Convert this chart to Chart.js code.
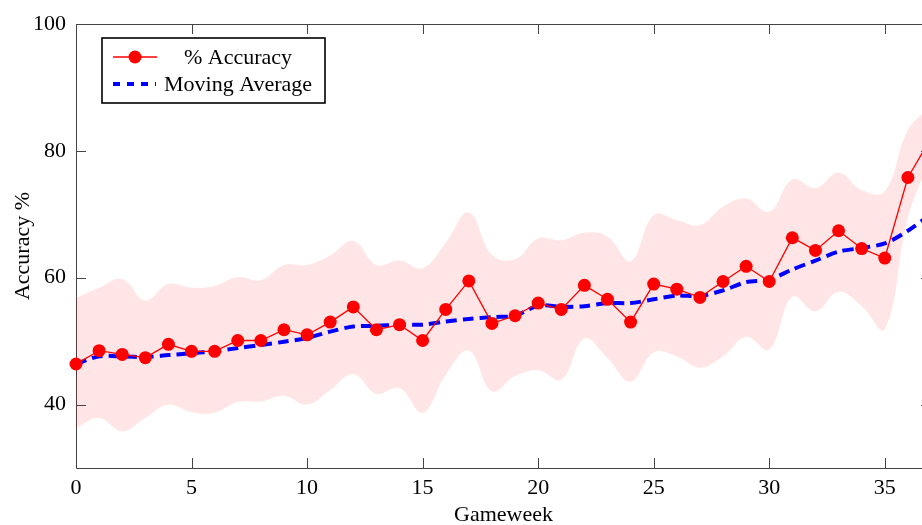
<!DOCTYPE html>
<html>
<head>
<meta charset="utf-8">
<script src="https://cdn.jsdelivr.net/npm/chart.js@4.4.0/dist/chart.umd.min.js"></script>
<style>
  html, body { margin: 0; padding: 0; background: #fff; overflow: hidden; }
  canvas { display: block; }
</style>
</head>
<body>
<canvas id="accuracyChart" width="940" height="530"></canvas>
<script>
// values
const gameweeks = [0, 1, 2, 3, 4, 5, 6, 7, 8, 9, 10, 11, 12, 13, 14, 15, 16, 17, 18,
  19, 20, 21, 22, 23, 24, 25, 26, 27, 28, 29, 30, 31, 32, 33, 34, 35, 36, 37];
const accuracy = [46.4, 48.5, 47.9, 47.4, 49.5, 48.4, 48.4, 50.1, 50.1, 51.8, 51.0, 53.0, 55.4,
  51.8, 52.6, 50.1, 55.0, 59.5, 52.8, 54.0, 56.0, 55.0, 58.8, 56.6, 53.0, 59.0, 58.2, 56.9,
  59.4, 61.8, 59.4, 66.3, 64.3, 67.4, 64.6, 63.1, 75.8, 82.0];
const movingAvg = [46.4, 47.6, 47.6, 47.5, 47.8, 48.1, 48.4, 48.9, 49.4, 49.9, 50.5, 51.5, 52.3,
  52.4, 52.6, 52.6, 53.1, 53.5, 53.8, 54.0, 55.6, 55.4, 55.5, 56.0, 56.0, 56.6, 57.2, 57.1,
  58.0, 59.3, 59.7, 61.3, 62.7, 64.1, 64.7, 65.4, 67.4, 70.0];
const bandUpper = [56.8, 58.4, 59.8, 56.4, 59.0, 58.4, 58.7, 60.1, 59.6, 62.0, 62.0, 63.5, 65.8,
  62.0, 62.7, 61.5, 65.5, 70.3, 63.6, 62.9, 66.2, 65.9, 67.1, 66.5, 62.6, 69.9, 69.1, 68.3,
  71.2, 72.5, 70.4, 75.5, 74.1, 76.6, 73.8, 73.6, 83.3, 87.0];
const bandLower = [36.3, 37.9, 35.8, 37.9, 40.0, 38.8, 38.7, 40.4, 40.5, 41.4, 40.0, 42.3, 44.8,
  41.7, 42.6, 38.7, 44.7, 48.5, 42.1, 44.5, 45.4, 43.9, 50.4, 47.3, 43.6, 48.2, 47.6, 45.8,
  47.6, 50.7, 48.7, 57.0, 54.7, 57.8, 55.5, 51.9, 69.5, 79.0];
const xTicks = [0, 5, 10, 15, 20, 25, 30, 35];
const yTicks = [40, 60, 80, 100];

const serif = "'Liberation Serif', 'Times New Roman', serif";
const fontSize = 22;
const axisColor = '#444';

const toPoints = ys => gameweeks.map((x, i) => ({ x, y: ys[i] }));

// box frame with inward ticks on all four sides
const framePlugin = {
  id: 'frame',
  beforeDatasetsDraw(chart) {
    const { ctx, chartArea: a, scales: { x, y } } = chart;
    const len = 10;
    ctx.save();
    ctx.strokeStyle = axisColor;
    ctx.lineWidth = 1;
    ctx.beginPath();
    ctx.rect(a.left + 0.5, a.top + 0.5, a.right - a.left, a.bottom - a.top);
    xTicks.forEach(v => {
      const px = Math.round(x.getPixelForValue(v)) + 0.5;
      ctx.moveTo(px, a.bottom); ctx.lineTo(px, a.bottom - len);
      ctx.moveTo(px, a.top); ctx.lineTo(px, a.top + len);
    });
    yTicks.forEach(v => {
      const py = Math.round(y.getPixelForValue(v)) + 0.5;
      ctx.moveTo(a.left, py); ctx.lineTo(a.left + len, py);
      ctx.moveTo(a.right, py); ctx.lineTo(a.right - len, py);
    });
    ctx.stroke();
    ctx.restore();
  }
};

// framed legend in the top left corner, text centred in its cell
const legendPlugin = {
  id: 'boxLegend',
  afterDraw(chart) {
    const { ctx } = chart;
    const [acc, avg] = chart.data.datasets;
    ctx.save();
    ctx.fillStyle = '#fff';
    ctx.fillRect(102, 38, 223, 65);
    ctx.strokeStyle = '#000';
    ctx.lineWidth = 1.6;
    ctx.strokeRect(102, 38, 223, 65);

    ctx.strokeStyle = acc.borderColor;
    ctx.lineWidth = acc.borderWidth;
    ctx.beginPath(); ctx.moveTo(113, 57); ctx.lineTo(157, 57); ctx.stroke();
    ctx.fillStyle = acc.pointBackgroundColor;
    ctx.beginPath(); ctx.arc(135, 57, acc.pointRadius, 0, Math.PI * 2); ctx.fill();

    ctx.strokeStyle = avg.borderColor;
    ctx.lineWidth = avg.borderWidth;
    ctx.setLineDash([7, 7]);
    ctx.beginPath(); ctx.moveTo(113, 84); ctx.lineTo(156, 84); ctx.stroke();
    ctx.setLineDash([]);

    ctx.fillStyle = '#000';
    ctx.font = fontSize + 'px ' + serif;
    ctx.textAlign = 'center';
    ctx.textBaseline = 'middle';
    ctx.fillText(acc.label, 238, 58);
    ctx.fillText(avg.label, 238, 85);
    ctx.restore();
  }
};

new Chart(document.getElementById('accuracyChart'), {
  type: 'line',
  data: {
    datasets: [{
      label: '% Accuracy',
      data: toPoints(accuracy),
      borderColor: '#ff0000',
      pointBackgroundColor: '#ff0000',
      borderWidth: 1.3,
      pointRadius: 6.5,
      pointBorderWidth: 0,
      tension: 0,
      clip: false
    }, {
      label: 'Moving Average',
      data: toPoints(movingAvg),
      borderColor: '#0000ff',
      borderWidth: 4,
      borderDash: [11, 6],
      pointRadius: 0,
      tension: 0.3,
      clip: false
    }, {
      label: 'upper',
      data: toPoints(bandUpper),
      borderWidth: 0,
      pointRadius: 0,
      tension: 0.4,
      fill: false
    }, {
      label: 'lower',
      data: toPoints(bandLower),
      borderWidth: 0,
      pointRadius: 0,
      tension: 0.4,
      fill: '-1',
      backgroundColor: 'rgba(255,0,0,0.1)'
    }]
  },
  options: {
    responsive: false,
    animation: false,
    layout: { padding: { top: 24, right: 9, bottom: 0, left: 0 } },
    plugins: { legend: { display: false }, tooltip: { enabled: false } },
    scales: {
      x: {
        type: 'linear',
        min: 0,
        max: 37,
        grid: { display: false, drawTicks: false },
        border: { display: false },
        afterBuildTicks: s => { s.ticks = xTicks.map(v => ({ value: v })); },
        afterFit: s => { s.height = 62; },
        ticks: { color: '#000', font: { family: serif, size: fontSize }, padding: 7, maxRotation: 0 },
        title: { display: true, text: 'Gameweek', color: '#000', font: { family: serif, size: fontSize }, padding: { top: 0, bottom: 2 } }
      },
      y: {
        min: 30,
        max: 100,
        grid: { display: false, drawTicks: false },
        border: { display: false },
        afterBuildTicks: s => { s.ticks = yTicks.map(v => ({ value: v })); },
        afterFit: s => { s.width = 76; },
        ticks: { color: '#000', font: { family: serif, size: fontSize }, padding: 10 },
        title: { display: true, text: 'Accuracy %', color: '#000', font: { family: serif, size: fontSize }, padding: { top: 10, bottom: 0 } }
      }
    }
  },
  plugins: [framePlugin, legendPlugin]
});
</script>
</body>
</html>
